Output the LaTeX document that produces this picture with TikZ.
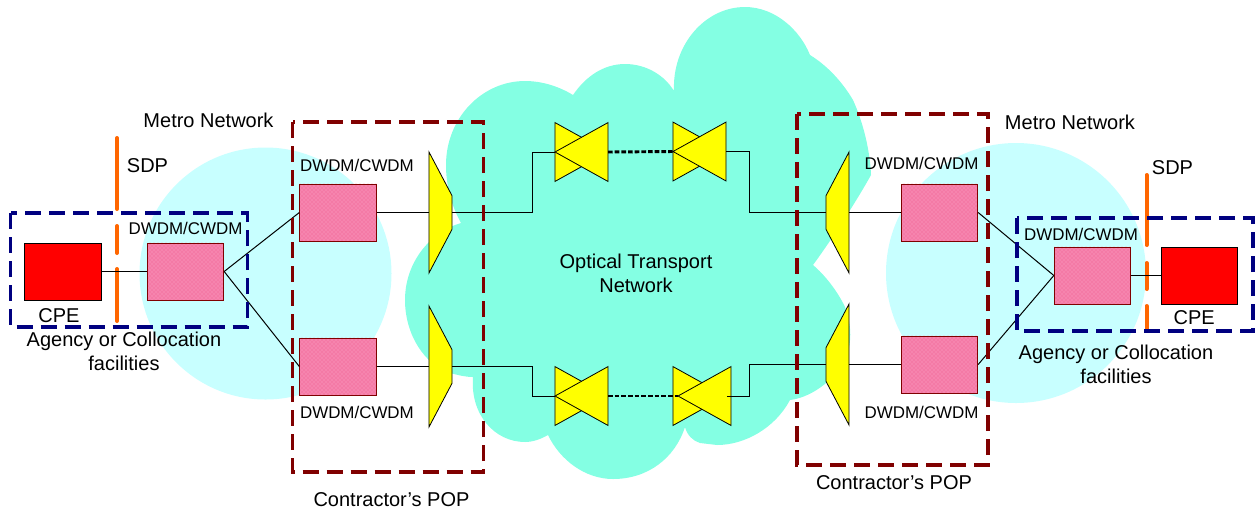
\documentclass[tikz,border=0pt]{standalone}
\usepackage{fontspec}
\setmainfont{Liberation Sans}
\usetikzlibrary{positioning}
\usetikzlibrary{patterns}
\usetikzlibrary{shapes.geometric}
\definecolor{cloudC}{HTML}{84FFE3}
\definecolor{metroC}{HTML}{C8FFFF}
\definecolor{wdmC}{HTML}{F47AA6}
\definecolor{wdmD}{HTML}{FFA6CC}
\definecolor{muxC}{HTML}{FFFF00}
\definecolor{sdpC}{HTML}{FF6600}
\definecolor{agencyC}{HTML}{000080}
\definecolor{popC}{HTML}{800000}
\tikzstyle{wdm} = [rectangle,preaction={fill=wdmC},pattern=crosshatch dots,pattern color=wdmD,draw=black!50!red,line width=.6pt,minimum width=57.4pt,minimum height=42.8pt,inner sep=0pt]
\tikzstyle{cpe} = [rectangle,fill=red,draw=black,line width=.6pt,minimum width=57.4pt,minimum height=42.8pt,inner sep=0pt]
\tikzstyle{muxL} = [trapezium,trapezium stretches=true,trapezium angle=37.5,fill=muxC,draw=black,line width=.6pt,minimum width=90.8pt,minimum height=17.3pt,inner sep=1pt,outer sep=0pt,rotate=-90]
\tikzstyle{muxR} = [muxL,rotate=180]
\tikzstyle{tri} = [isosceles triangle,isosceles triangle stretches=true,fill=muxC,draw=black,line width=.6pt,minimum width=44.2pt,minimum height=39.8pt,inner sep=1pt,outer sep=0pt,anchor=apex]
\tikzstyle{triF} = [tri,shape border rotate=180]
\tikzstyle{lab} = [inner sep=0pt,font=\fontsize{15}{18}\selectfont,align=center]
\tikzstyle{labS} = [inner sep=0pt,font=\fontsize{12.7}{15}\selectfont]
\tikzstyle{link} = [line width=.75pt,black]
\tikzstyle{fibre} = [line width=2.2pt,black,dash pattern=on 3.5pt off 1.5pt]
\tikzstyle{sdp} = [line width=3pt,line cap=round,draw=sdpC]
\tikzstyle{frameA} = [line width=2.5pt,draw=agencyC,dash pattern=on 12pt off 6pt]
\tikzstyle{frameB} = [line width=2.5pt,draw=popC,dash pattern=on 12pt off 6pt]

\begin{document}
\begin{tikzpicture}[x=.75pt,y=-.75pt]
\useasboundingbox (0,0) rectangle (1260,512);

% Clouds
\fill[metroC] (265.5,273.5) circle [radius=94.5pt];
\fill[metroC] (1016,273) circle [radius=97.5pt];
\fill[cloudC] (461,223) .. controls (451,205) and (446,185) .. (446,165)
	.. controls (446,118) and (482,81) .. (525,81)
	.. controls (543,81) and (560,87) .. (573,95)
	.. controls (586,76) and (604,64) .. (625,64)
	.. controls (647,64) and (665,76) .. (674,91)
	.. controls (672,45) and (705,7) .. (745,7)
	.. controls (775,7) and (800,30) .. (810,55)
	.. controls (828,66) and (843,83) .. (853,100)
	.. controls (863,122) and (870,150) .. (871,175)
	.. controls (860,195) and (835,235) .. (813,265)
	.. controls (825,275) and (838,292) .. (845,307)
	.. controls (852,325) and (852,345) .. (845,360)
	.. controls (838,375) and (815,397) .. (790,400)
	.. controls (775,428) and (745,445) .. (717,445)
	-- (700,443)
	.. controls (693,441) and (687,435) .. (685,427)
	.. controls (675,458) and (648,479) .. (613,479)
	.. controls (585,479) and (560,460) .. (548,435)
	.. controls (541,439) and (533,442) .. (525,442)
	.. controls (495,442) and (470,415) .. (473,377)
	.. controls (465,377) and (458,375) .. (450,373)
	.. controls (425,365) and (405,335) .. (405,300)
	.. controls (405,280) and (412,263) .. (422,250)
	.. controls (432,237) and (447,227) .. (461,223) -- cycle;

% Service points
\coordinate (sa1) at (117,138);
\coordinate (sa2) at (117,209);
\coordinate (sa3) at (117,226);
\coordinate (sa4) at (117,253);
\coordinate (sa5) at (117,269);
\coordinate (sa6) at (117,321);
\coordinate (sb1) at (1146.5,175);
\coordinate (sb2) at (1146.5,245);
\coordinate (sb3) at (1146.5,263);
\coordinate (sb4) at (1146.5,289);
\coordinate (sb5) at (1146.5,306);
\coordinate (sb6) at (1146.5,330);
\draw[sdp] (sa1) -- (sa2);
\draw[sdp] (sa3) -- (sa4);
\draw[sdp] (sa5) -- (sa6);
\draw[sdp] (sb1) -- (sb2);
\draw[sdp] (sb3) -- (sb4);
\draw[sdp] (sb5) -- (sb6);

% Define nodes
\node[cpe] (cpeL) at (63,271.5) {};
\node[wdm] (wdmL) at (185.5,271.5) {};
\node[wdm] (wdmLT) at (338,212.5) {};
\node[wdm] (wdmLB) at (338,366.5) {};
\node[wdm] (wdmRT) at (939.5,212.5) {};
\node[wdm] (wdmRB) at (939.5,364.5) {};
\node[wdm] (wdmR) at (1092.5,275.5) {};
\node[cpe] (cpeR) at (1199.5,275.5) {};

\node[muxL] (muxLT) at (440.5,212.5) {};
\node[muxL] (muxLB) at (440.5,366.5) {};
\node[muxR] (muxRT) at (837.5,212.5) {};
\node[muxR] (muxRB) at (837.5,364.5) {};

\node[tri]  (xLTb) at (608,152) {};
\node[triF] (xLTf) at (555,152) {};
\node[tri]  (xRTb) at (726,151.5) {};
\node[triF] (xRTf) at (673,151.5) {};
\node[tri]  (xLBb) at (608,396) {};
\node[triF] (xLBf) at (555,396) {};
\node[tri]  (xRBb) at (726,396) {};
\node[triF] (xRBf) at (678,396) {};

\coordinate (kLT) at (532,152);
\coordinate (kLB) at (532,396);
\coordinate (kRT) at (749,151.5);
\coordinate (kRB) at (749,396);
\coordinate (sRB) at (727,396);

% Edges
\draw[link] (cpeL) -- (wdmL);
\draw[link] (wdmL.east) -- (wdmLT.west);
\draw[link] (wdmL.east) -- (wdmLB.west);
\draw[link] (wdmLT) -- (muxLT.bottom side);
\draw[link] (wdmLB) -- (muxLB.bottom side);
\draw[link] (muxLT.top side) -| (kLT) -- (xLTf.apex);
\draw[link] (muxLB.top side) -| (kLB) -- (xLBf.apex);
\draw[link] (xRTf.lower side) -- (kRT) |- (muxRT.top side);
\draw[link] (sRB) -- (kRB) |- (muxRB.top side);
\draw[link] (muxRT.bottom side) -- (wdmRT);
\draw[link] (muxRB.bottom side) -- (wdmRB);
\draw[link] (wdmRT.east) -- (wdmR.west);
\draw[link] (wdmRB.east) -- (wdmR.west);
\draw[link] (wdmR) -- (cpeR);
\draw[fibre] (xLTf.lower side) -- (xRTf.apex);
\draw[fibre] (xLBf.lower side) -- (xRBf.apex);

% Frames
\draw[frameA] (10.5,213) rectangle (247.5,327);
\draw[frameA] (1017,218) rectangle (1253,331);
\draw[frameB] (292.5,122) rectangle (483.5,472);
\draw[frameB] (797,114) rectangle (988,465);

% Labels
\node[labS, above=6pt of wdmL] (tL) {DWDM/CWDM};
\node[labS, above=9pt of wdmLT, xshift=14.2pt] (tLT) {DWDM/CWDM};
\node[labS, below=8pt of wdmLB, xshift=14.2pt] (tLB) {DWDM/CWDM};
\node[labS, above=10pt of wdmRT, xshift=-13.5pt] (tRT) {DWDM/CWDM};
\node[labS, below=9.5pt of wdmRB, xshift=-13.5pt] (tRB) {DWDM/CWDM};
\node[labS, above=4.5pt of wdmR, xshift=-8.6pt] (tR) {DWDM/CWDM};
\node[lab, below=6pt of cpeL, xshift=-3pt] (tcL) {CPE};
\node[lab, below=4.5pt of cpeR, xshift=-4pt] (tcR) {CPE};
\node[lab] (mL) at (208.5,120) {Metro Network};
\node[lab] (mR) at (1070,122) {Metro Network};
\node[lab] (sL) at (147.5,166) {SDP};
\node[lab] (sR) at (1172.5,168) {SDP};
\node[lab] (aL) at (124,351) {Agency or Collocation\\facilities};
\node[lab] (aR) at (1116,364) {Agency or Collocation\\facilities};
\node[lab] (otn) at (636,273) {Optical Transport\\Network};
\node[lab] (cL) at (391.5,500) {Contractor’s POP};
\node[lab] (cR) at (894,483) {Contractor’s POP};
\end{tikzpicture}
\end{document}
